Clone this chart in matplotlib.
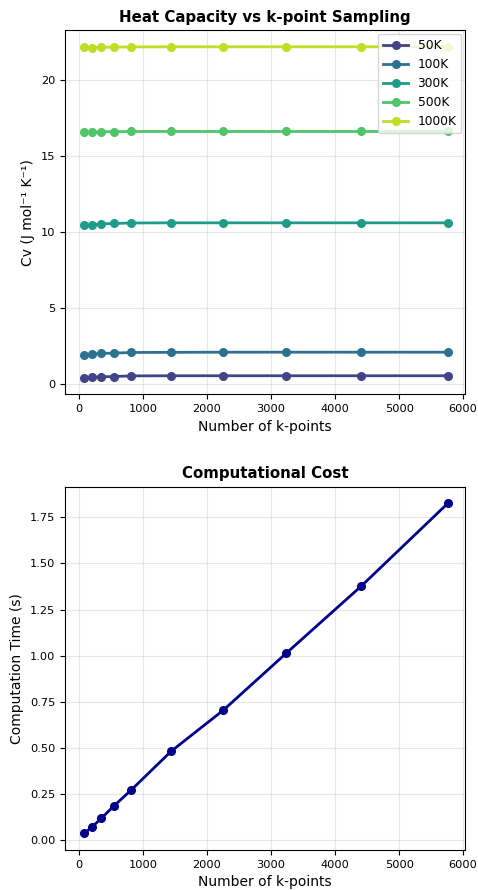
import numpy as np
import matplotlib.pyplot as plt

# k-point grids and results
kpoints = [80, 200, 350, 550, 810, 1440, 2250, 3240, 4410, 5760]
temps = ["50K", "100K", "300K", "500K", "1000K"]

cv_50 = [0.40, 0.42, 0.46, 0.48, 0.52, 0.53, 0.53, 0.53, 0.53, 0.53]
cv_100 = [1.90, 1.94, 2.00, 2.02, 2.06, 2.07, 2.08, 2.08, 2.08, 2.08]
cv_300 = [10.45, 10.46, 10.52, 10.55, 10.58, 10.59, 10.59, 10.59, 10.59, 10.59]
cv_500 = [16.54, 16.54, 16.58, 16.59, 16.60, 16.60, 16.60, 16.60, 16.60, 16.60]
cv_1000 = [22.13, 22.09, 22.14, 22.15, 22.16, 22.17, 22.17, 22.17, 22.17, 22.17]

comp_time = [0.037, 0.071, 0.120, 0.188, 0.271, 0.483, 0.704, 1.015, 1.378, 1.826]

fig = plt.figure(figsize=(4.78, 8.9), dpi=100)
ax1 = fig.add_axes([0.136, 0.557, 0.837, 0.409])
ax2 = fig.add_axes([0.136, 0.045, 0.837, 0.408])

colors = plt.cm.viridis(np.linspace(0.2, 0.9, 5))
for vals, lab, c in zip([cv_50, cv_100, cv_300, cv_500, cv_1000], temps, colors):
    ax1.plot(kpoints, vals, "o-", color=c, label=lab, linewidth=2, markersize=5.5)
ax1.set_xlabel("Number of k-points", fontsize=10)
ax1.set_ylabel("Cv (J mol⁻¹ K⁻¹)", fontsize=10)
ax1.set_title("Heat Capacity vs k-point Sampling", fontsize=10.8, fontweight="bold")
ax1.legend(fontsize=8.8, loc="upper right", borderaxespad=0.3)
ax1.grid(True, alpha=0.3)
ax1.set_xlim(-220, 6030)
ax1.tick_params(labelsize=8.2)

ax2.plot(kpoints, comp_time, "o-", color="darkblue", linewidth=2, markersize=5.5)
ax2.set_xlabel("Number of k-points", fontsize=10)
ax2.set_ylabel("Computation Time (s)", fontsize=10)
ax2.set_title("Computational Cost", fontsize=10.8, fontweight="bold")
ax2.grid(True, alpha=0.3)
ax2.set_xlim(-220, 6030)
ax2.tick_params(labelsize=8.2)

fig.savefig("out.png", dpi=100)
